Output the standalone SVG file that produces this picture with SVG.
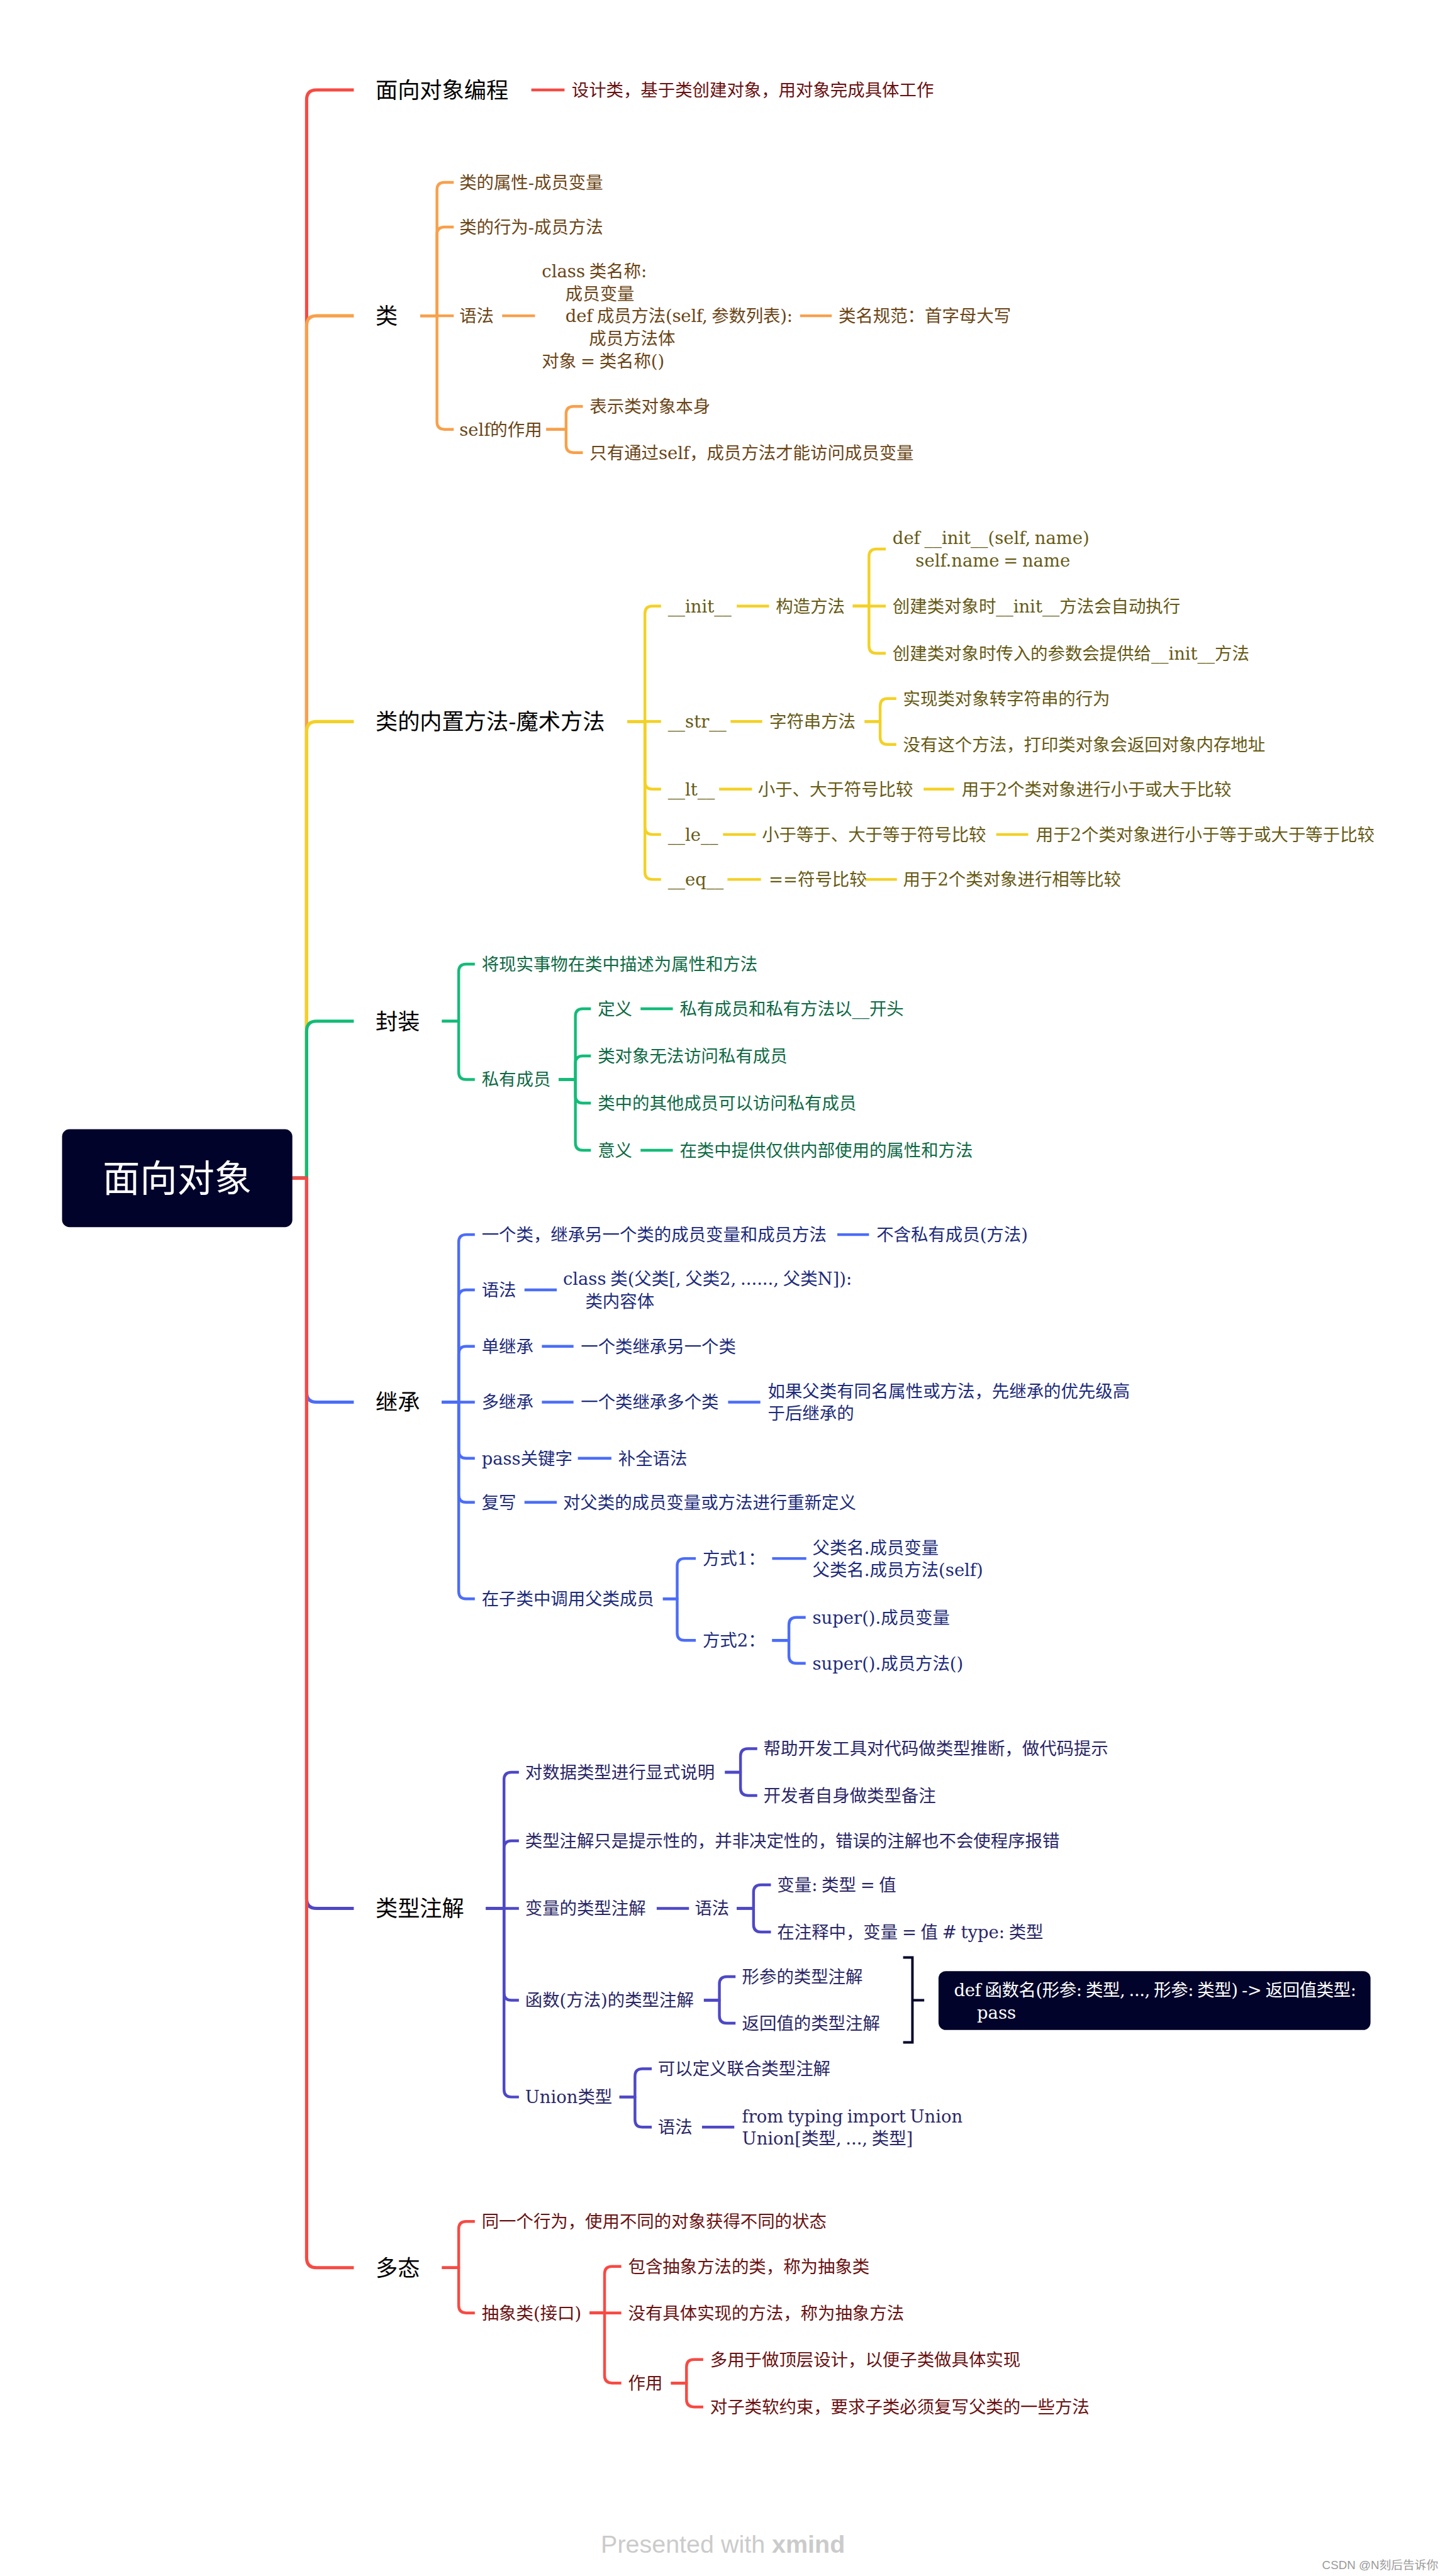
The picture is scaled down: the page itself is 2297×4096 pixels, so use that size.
<svg xmlns="http://www.w3.org/2000/svg" width="2297" height="4096" viewBox="0 0 2297 4096">
<defs>
<style>
.bg{fill:#ffffff}
.c{fill:none;stroke-width:4.5;stroke-linecap:butt;stroke-linejoin:round}
.mb{fill:none;stroke-width:5.2;stroke-linejoin:round}
.sr{stroke:#F74A43}.so{stroke:#F8A04A}.sy{stroke:#F3D125}.sg{stroke:#13BC78}.sb{stroke:#4B6DF8}.sp{stroke:#4E48C6}
.t{font-family:"DejaVu Serif","Noto Sans CJK SC",serif;font-size:27.8px;word-spacing:-2px}
.m{font-family:"Noto Sans CJK SC",sans-serif;font-size:35.7px;fill:#000000}
.r{fill:#6A1111}.o{fill:#6B4516}.y{fill:#665A14}.g{fill:#0E6A44}.b{fill:#1D2B7A}.p{fill:#2A2766}.w{fill:#ffffff}
.dark{fill:#01032A}
</style>
</defs>
<rect class="bg" x="0" y="0" width="2297" height="4096"/>
<g transform="scale(0.98668 0.98651)">
<g id="connectors">
<path class="mb sr" d="M471 1899 H494 V161 Q494 145 510 145 H570"/>
<path class="mb so" d="M471 1899 H494 V525 Q494 509 510 509 H570"/>
<path class="mb sy" d="M471 1899 H494 V1179 Q494 1163 510 1163 H570"/>
<path class="mb sg" d="M471 1899 H494 V1662 Q494 1646 510 1646 H570"/>
<path class="mb sb" d="M471 1899 H494 V2244 Q494 2260 510 2260 H570"/>
<path class="mb sp" d="M471 1899 H494 V3060 Q494 3076 510 3076 H570"/>
<path class="mb sr" d="M471 1899 H494 V3639 Q494 3655 510 3655 H570"/>
<path class="c sr" d="M856 145 H909.5"/>
<path class="c so" d="M677 509 H704 V306 Q704 294 716 294 H731"/>
<path class="c so" d="M677 509 H704 V378 Q704 366 716 366 H731"/>
<path class="c so" d="M677 509 H731"/>
<path class="c so" d="M677 509 H704 V680 Q704 692 716 692 H731"/>
<path class="c so" d="M809 509 H862"/>
<path class="c so" d="M1289 509 H1340"/>
<path class="c so" d="M880 692 H912 V667 Q912 655 924 655 H939"/>
<path class="c so" d="M880 692 H912 V717.5 Q912 729.5 924 729.5 H939"/>
<path class="c sy" d="M1011 1163 H1039 V989 Q1039 977 1051 977 H1065"/>
<path class="c sy" d="M1011 1163 H1065"/>
<path class="c sy" d="M1011 1163 H1039 V1260 Q1039 1272 1051 1272 H1065"/>
<path class="c sy" d="M1011 1163 H1039 V1333 Q1039 1345 1051 1345 H1065"/>
<path class="c sy" d="M1011 1163 H1039 V1405.5 Q1039 1417.5 1051 1417.5 H1065"/>
<path class="c sy" d="M1187 977 H1239"/>
<path class="c sy" d="M1374 977 H1400 V897 Q1400 885 1412 885 H1427"/>
<path class="c sy" d="M1374 977 H1427"/>
<path class="c sy" d="M1374 977 H1400 V1041 Q1400 1053 1412 1053 H1427"/>
<path class="c sy" d="M1177 1163 H1228"/>
<path class="c sy" d="M1393 1163 H1418 V1138 Q1418 1126 1430 1126 H1444"/>
<path class="c sy" d="M1393 1163 H1418 V1188 Q1418 1200 1430 1200 H1444"/>
<path class="c sy" d="M1158.6 1272 H1211.5"/>
<path class="c sy" d="M1488 1272 H1537"/>
<path class="c sy" d="M1164.8 1345 H1217.6"/>
<path class="c sy" d="M1605 1345 H1656.6"/>
<path class="c sy" d="M1172 1417.5 H1226"/>
<path class="c sy" d="M1393.5 1417.5 H1445"/>
<path class="c sg" d="M712 1646 H739 V1566 Q739 1554 751 1554 H765"/>
<path class="c sg" d="M712 1646 H739 V1728 Q739 1740 751 1740 H765"/>
<path class="c sg" d="M900 1740 H927 V1638 Q927 1626 939 1626 H952"/>
<path class="c sg" d="M900 1740 H927 V1714 Q927 1702 939 1702 H952"/>
<path class="c sg" d="M900 1740 H927 V1766 Q927 1778 939 1778 H952"/>
<path class="c sg" d="M900 1740 H927 V1842 Q927 1854 939 1854 H952"/>
<path class="c sg" d="M1032 1626 H1084"/>
<path class="c sg" d="M1032 1854 H1084"/>
<path class="c sb" d="M712 2260 H739 V2002 Q739 1990 751 1990 H765"/>
<path class="c sb" d="M712 2260 H739 V2091 Q739 2079 751 2079 H765"/>
<path class="c sb" d="M712 2260 H739 V2182 Q739 2170 751 2170 H765"/>
<path class="c sb" d="M712 2260 H765"/>
<path class="c sb" d="M712 2260 H739 V2338.5 Q739 2350.5 751 2350.5 H765"/>
<path class="c sb" d="M712 2260 H739 V2409.5 Q739 2421.5 751 2421.5 H765"/>
<path class="c sb" d="M712 2260 H739 V2565 Q739 2577 751 2577 H765"/>
<path class="c sb" d="M1349 1990 H1400"/>
<path class="c sb" d="M845 2079 H897"/>
<path class="c sb" d="M873 2170 H924"/>
<path class="c sb" d="M873 2260 H924"/>
<path class="c sb" d="M1173 2260 H1225"/>
<path class="c sb" d="M931 2350.5 H985"/>
<path class="c sb" d="M845 2421.5 H897"/>
<path class="c sb" d="M1068 2577 H1091 V2524 Q1091 2512 1103 2512 H1121"/>
<path class="c sb" d="M1068 2577 H1091 V2632 Q1091 2644 1103 2644 H1121"/>
<path class="c sb" d="M1244 2512 H1299"/>
<path class="c sb" d="M1244 2644 H1271 V2619 Q1271 2607 1283 2607 H1298"/>
<path class="c sb" d="M1244 2644 H1271 V2669 Q1271 2681 1283 2681 H1298"/>
<path class="c sp" d="M783 3076 H812 V2868.5 Q812 2856.5 824 2856.5 H836"/>
<path class="c sp" d="M783 3076 H812 V2979 Q812 2967 824 2967 H836"/>
<path class="c sp" d="M783 3076 H836"/>
<path class="c sp" d="M783 3076 H812 V3212 Q812 3224 824 3224 H836"/>
<path class="c sp" d="M783 3076 H812 V3368 Q812 3380 824 3380 H836"/>
<path class="c sp" d="M1168 2856.5 H1193 V2830.5 Q1193 2818.5 1205 2818.5 H1220"/>
<path class="c sp" d="M1168 2856.5 H1193 V2882 Q1193 2894 1205 2894 H1220"/>
<path class="c sp" d="M1058 3076 H1110"/>
<path class="c sp" d="M1187 3076 H1214 V3050 Q1214 3038 1226 3038 H1242"/>
<path class="c sp" d="M1187 3076 H1214 V3102 Q1214 3114 1226 3114 H1242"/>
<path class="c sp" d="M1134 3224 H1159 V3198 Q1159 3186 1171 3186 H1185"/>
<path class="c sp" d="M1134 3224 H1159 V3249 Q1159 3261 1171 3261 H1185"/>
<path class="c sp" d="M998 3380 H1023 V3346.5 Q1023 3334.5 1035 3334.5 H1050"/>
<path class="c sp" d="M998 3380 H1023 V3416.5 Q1023 3428.5 1035 3428.5 H1050"/>
<path class="c sp" d="M1131 3428.5 H1183"/>
<path fill="none" stroke="#01032A" stroke-width="4" d="M1455 3155 H1470 V3292 H1455 M1470 3224 H1489"/>
<path class="c sr" d="M712 3655 H739 V3592.5 Q739 3580.5 751 3580.5 H765"/>
<path class="c sr" d="M712 3655 H739 V3716 Q739 3728 751 3728 H765"/>
<path class="c sr" d="M950 3728 H974 V3665 Q974 3653 986 3653 H1001"/>
<path class="c sr" d="M950 3728 H1001"/>
<path class="c sr" d="M950 3728 H974 V3829 Q974 3841 986 3841 H1001"/>
<path class="c sr" d="M1081 3841 H1106 V3815 Q1106 3803 1118 3803 H1133"/>
<path class="c sr" d="M1081 3841 H1106 V3867.5 Q1106 3879.5 1118 3879.5 H1133"/>
</g>

<g id="root">
<rect class="dark" x="100" y="1820" width="371" height="158" rx="12"/>
<text x="285.5" y="1921" text-anchor="middle" class="w" style="font-family:'Noto Sans CJK SC',sans-serif;font-size:60px">面向对象</text>
</g>

<g id="topic-1"><text class="m" x="605" y="158">面向对象编程</text></g>
<g id="n-1-1"><text class="t r" x="921" y="155">设计类，基于类创建对象，用对象完成具体工作</text></g>

<g id="topic-2"><text class="m" x="605" y="522">类</text></g>
<g id="n-2-1"><text class="t o" x="740" y="304">类的属性-成员变量</text></g>
<g id="n-2-2"><text class="t o" x="740" y="376">类的行为-成员方法</text></g>
<g id="n-2-3"><text class="t o" x="740" y="519">语法</text></g>
<g id="n-2-3-1">
<text class="t o"><tspan x="873" y="447.5">class 类名称:</tspan><tspan x="911" y="483.5">成员变量</tspan></text>
<text class="t o" x="911" y="519.5" textLength="366" lengthAdjust="spacing">def 成员方法(self, 参数列表):</text>
<text class="t o"><tspan x="949" y="555.5">成员方法体</tspan><tspan x="873" y="591.5">对象 = 类名称()</tspan></text>
</g>
<g id="n-2-3-1-1"><text class="t o" x="1351" y="519">类名规范：首字母大写</text></g>
<g id="n-2-4"><text class="t o" x="740" y="702">self的作用</text></g>
<g id="n-2-4-1"><text class="t o" x="950" y="665">表示类对象本身</text></g>
<g id="n-2-4-2"><text class="t o" x="950" y="739.5">只有通过self，成员方法才能访问成员变量</text></g>

<g id="topic-3"><text class="m" x="605" y="1176">类的内置方法-魔术方法</text></g>
<g id="n-3-1"><text class="t y" x="1076" y="987">__init__</text></g>
<g id="n-3-1-1"><text class="t y" x="1250" y="987">构造方法</text></g>
<g id="n-3-1-1-1"><text class="t y"><tspan x="1438" y="877">def __init__(self, name)</tspan><tspan x="1475" y="913">self.name = name</tspan></text></g>
<g id="n-3-1-1-2"><text class="t y" x="1438" y="987">创建类对象时__init__方法会自动执行</text></g>
<g id="n-3-1-1-3"><text class="t y" x="1438" y="1063">创建类对象时传入的参数会提供给__init__方法</text></g>
<g id="n-3-2"><text class="t y" x="1076" y="1173">__str__</text></g>
<g id="n-3-2-1"><text class="t y" x="1239.5" y="1173">字符串方法</text></g>
<g id="n-3-2-1-1"><text class="t y" x="1455" y="1136">实现类对象转字符串的行为</text></g>
<g id="n-3-2-1-2"><text class="t y" x="1455" y="1210">没有这个方法，打印类对象会返回对象内存地址</text></g>
<g id="n-3-3"><text class="t y" x="1076" y="1282">__lt__</text></g>
<g id="n-3-3-1"><text class="t y" x="1221" y="1282">小于、大于符号比较</text></g>
<g id="n-3-3-2"><text class="t y" x="1549.5" y="1282">用于2个类对象进行小于或大于比较</text></g>
<g id="n-3-4"><text class="t y" x="1076" y="1355">__le__</text></g>
<g id="n-3-4-1"><text class="t y" x="1227.5" y="1355">小于等于、大于等于符号比较</text></g>
<g id="n-3-4-2"><text class="t y" x="1669" y="1355">用于2个类对象进行小于等于或大于等于比较</text></g>
<g id="n-3-5"><text class="t y" x="1076" y="1427.5">__eq__</text></g>
<g id="n-3-5-1"><text class="t y" x="1238.6" y="1427.5">==符号比较</text></g>
<g id="n-3-5-2"><text class="t y" x="1455" y="1427.5">用于2个类对象进行相等比较</text></g>

<g id="topic-4"><text class="m" x="605" y="1659">封装</text></g>
<g id="n-4-1"><text class="t g" x="776" y="1564">将现实事物在类中描述为属性和方法</text></g>
<g id="n-4-2"><text class="t g" x="776" y="1750">私有成员</text></g>
<g id="n-4-2-1"><text class="t g" x="963" y="1636">定义</text></g>
<g id="n-4-2-1-1"><text class="t g" x="1095" y="1636">私有成员和私有方法以__开头</text></g>
<g id="n-4-2-2"><text class="t g" x="963" y="1712">类对象无法访问私有成员</text></g>
<g id="n-4-2-3"><text class="t g" x="963" y="1788">类中的其他成员可以访问私有成员</text></g>
<g id="n-4-2-4"><text class="t g" x="963" y="1864">意义</text></g>
<g id="n-4-2-4-1"><text class="t g" x="1095" y="1864">在类中提供仅供内部使用的属性和方法</text></g>

<g id="topic-5"><text class="m" x="605" y="2273">继承</text></g>
<g id="n-5-1"><text class="t b" x="776" y="2000">一个类，继承另一个类的成员变量和成员方法</text></g>
<g id="n-5-1-1"><text class="t b" x="1412" y="2000">不含私有成员(方法)</text></g>
<g id="n-5-2"><text class="t b" x="776" y="2089">语法</text></g>
<g id="n-5-2-1"><text class="t b"><tspan x="907" y="2071">class 类(父类[, 父类2, ......, 父类N]):</tspan><tspan x="943" y="2107">类内容体</tspan></text></g>
<g id="n-5-3"><text class="t b" x="776" y="2180">单继承</text></g>
<g id="n-5-3-1"><text class="t b" x="935.7" y="2180">一个类继承另一个类</text></g>
<g id="n-5-4"><text class="t b" x="776" y="2270">多继承</text></g>
<g id="n-5-4-1"><text class="t b" x="935.7" y="2270">一个类继承多个类</text></g>
<g id="n-5-4-1-1"><text class="t b"><tspan x="1237" y="2252">如果父类有同名属性或方法，先继承的优先级高</tspan><tspan x="1237" y="2288">于后继承的</tspan></text></g>
<g id="n-5-5"><text class="t b" x="776" y="2360.5">pass关键字</text></g>
<g id="n-5-5-1"><text class="t b" x="996" y="2360.5">补全语法</text></g>
<g id="n-5-6"><text class="t b" x="776" y="2431.5">复写</text></g>
<g id="n-5-6-1"><text class="t b" x="907" y="2431.5">对父类的成员变量或方法进行重新定义</text></g>
<g id="n-5-7"><text class="t b" x="776" y="2587">在子类中调用父类成员</text></g>
<g id="n-5-7-1"><text class="t b" x="1132" y="2522">方式1：</text></g>
<g id="n-5-7-1-1"><text class="t b"><tspan x="1309" y="2504.5">父类名.成员变量</tspan><tspan x="1309" y="2540.5">父类名.成员方法(self)</tspan></text></g>
<g id="n-5-7-2"><text class="t b" x="1132" y="2654">方式2：</text></g>
<g id="n-5-7-2-1"><text class="t b" x="1309" y="2617">super().成员变量</text></g>
<g id="n-5-7-2-2"><text class="t b" x="1309" y="2691">super().成员方法()</text></g>

<g id="topic-6"><text class="m" x="605" y="3089">类型注解</text></g>
<g id="n-6-1"><text class="t p" x="846" y="2866.5">对数据类型进行显式说明</text></g>
<g id="n-6-1-1"><text class="t p" x="1230" y="2828.5">帮助开发工具对代码做类型推断，做代码提示</text></g>
<g id="n-6-1-2"><text class="t p" x="1230" y="2904">开发者自身做类型备注</text></g>
<g id="n-6-2"><text class="t p" x="846" y="2977">类型注解只是提示性的，并非决定性的，错误的注解也不会使程序报错</text></g>
<g id="n-6-3"><text class="t p" x="846" y="3086">变量的类型注解</text></g>
<g id="n-6-3-1"><text class="t p" x="1119.3" y="3086">语法</text></g>
<g id="n-6-3-1-1"><text class="t p" x="1252" y="3048">变量: 类型 = 值</text></g>
<g id="n-6-3-1-2"><text class="t p" x="1252" y="3124">在注释中，变量 = 值 # type: 类型</text></g>
<g id="n-6-4"><text class="t p" x="846" y="3234">函数(方法)的类型注解</text></g>
<g id="n-6-4-1"><text class="t p" x="1195.5" y="3196">形参的类型注解</text></g>
<g id="n-6-4-2"><text class="t p" x="1195.5" y="3271">返回值的类型注解</text></g>
<g id="n-6-4-s">
<rect class="dark" x="1512" y="3177" width="696" height="95" rx="12"/>
<text class="t w" x="1537" y="3217.7" textLength="648" lengthAdjust="spacing">def 函数名(形参: 类型, ..., 形参: 类型) -&gt; 返回值类型:</text>
<text class="t w" x="1574" y="3254.4">pass</text>
</g>
<g id="n-6-5"><text class="t p" x="846" y="3390">Union类型</text></g>
<g id="n-6-5-1"><text class="t p" x="1060" y="3344.5">可以定义联合类型注解</text></g>
<g id="n-6-5-2"><text class="t p" x="1060" y="3438.5">语法</text></g>
<g id="n-6-5-2-1"><text class="t p"><tspan x="1195.5" y="3421">from typing import Union</tspan><tspan x="1195.5" y="3456.5">Union[类型, ..., 类型]</tspan></text></g>

<g id="topic-7"><text class="m" x="605" y="3668">多态</text></g>
<g id="n-7-1"><text class="t r" x="776" y="3590.5">同一个行为，使用不同的对象获得不同的状态</text></g>
<g id="n-7-2"><text class="t r" x="776" y="3738">抽象类(接口)</text></g>
<g id="n-7-2-1"><text class="t r" x="1012" y="3663">包含抽象方法的类，称为抽象类</text></g>
<g id="n-7-2-2"><text class="t r" x="1012" y="3738.5">没有具体实现的方法，称为抽象方法</text></g>
<g id="n-7-2-3"><text class="t r" x="1012" y="3851">作用</text></g>
<g id="n-7-2-3-1"><text class="t r" x="1144" y="3813">多用于做顶层设计，以便子类做具体实现</text></g>
<g id="n-7-2-3-2"><text class="t r" x="1144" y="3889.5">对子类软约束，要求子类必须复写父类的一些方法</text></g>

<g id="footer">
<text x="968" y="4115" style="font-family:'Liberation Sans',sans-serif;font-size:40px;fill:#CBCBCB">Presented with <tspan font-weight="bold">xmind</tspan></text>
<text x="2130" y="4141" style="font-family:'Liberation Sans','Noto Sans CJK SC',sans-serif;font-size:19px;fill:#9A9A9A">CSDN @N刻后告诉你</text>
</g>
</g>
</svg>
